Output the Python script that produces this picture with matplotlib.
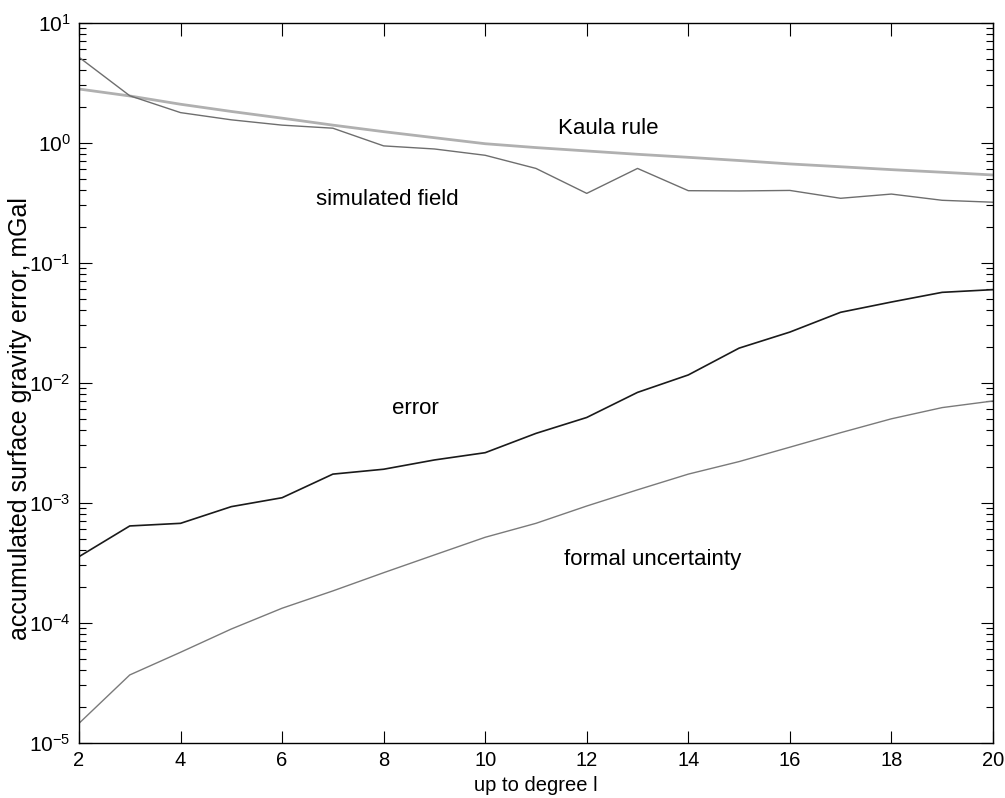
import matplotlib
matplotlib.use("Agg")
import matplotlib.pyplot as plt
from matplotlib.ticker import LogLocator, NullFormatter

plt.rcParams['font.family'] = ['Liberation Sans', 'DejaVu Sans']
plt.rcParams['mathtext.fontset'] = 'custom'
plt.rcParams['mathtext.rm'] = 'Liberation Sans'
plt.rcParams['mathtext.it'] = 'Liberation Sans:italic'

# spherical harmonic degree
degree = list(range(2, 21))

kaula_rule = [2.80, 2.45, 2.09, 1.82, 1.60, 1.40, 1.235, 1.10, 0.98, 0.91,
              0.853, 0.80, 0.755, 0.71, 0.665, 0.63, 0.596, 0.567, 0.538]
simulated_field = [5.15, 2.46, 1.78, 1.55, 1.40, 1.32, 0.94, 0.886, 0.785, 0.61,
                   0.378, 0.61, 0.398, 0.396, 0.40, 0.344, 0.373, 0.331, 0.319]
error = [3.55e-4, 6.4e-4, 6.73e-4, 9.27e-4, 1.10e-3, 1.73e-3, 1.90e-3, 2.27e-3,
         2.61e-3, 3.78e-3, 5.13e-3, 8.3e-3, 1.16e-2, 1.94e-2, 2.64e-2, 3.86e-2,
         4.70e-2, 5.66e-2, 5.96e-2]
formal_uncertainty = [1.45e-5, 3.67e-5, 5.67e-5, 8.86e-5, 1.32e-4, 1.84e-4, 2.61e-4,
                      3.67e-4, 5.15e-4, 6.73e-4, 9.38e-4, 1.28e-3, 1.73e-3, 2.20e-3,
                      2.90e-3, 3.83e-3, 5.0e-3, 6.2e-3, 7.04e-3]

fig = plt.figure(figsize=(10.05, 7.98), dpi=100)
ax = fig.add_axes([0.0786, 0.0693, 0.9094, 0.9023])

ax.plot(degree, kaula_rule, color='#b0b0b0', lw=2.0)
ax.plot(degree, simulated_field, color='#6e6e6e', lw=1.0)
ax.plot(degree, error, color='#1a1a1a', lw=1.2)
ax.plot(degree, formal_uncertainty, color='#7a7a7a', lw=1.0)

ax.set_yscale('log')
ax.set_xlim(2, 20)
ax.set_ylim(1e-5, 1e1)
ax.set_xticks(range(2, 21, 2))
ax.yaxis.set_major_locator(LogLocator(base=10, numticks=10))
ax.yaxis.set_minor_locator(LogLocator(base=10, subs=range(2, 10), numticks=100))
ax.yaxis.set_minor_formatter(NullFormatter())

ax.tick_params(which='both', direction='in', top=True, right=True, width=0.8)
ax.tick_params(which='major', length=9, pad=6)
ax.tick_params(which='minor', length=5)
ax.tick_params(axis='x', labelsize=14.5)
ax.tick_params(axis='y', labelsize=15)
for s in ax.spines.values():
    s.set_linewidth(1.0)

ax.set_xlabel('up to degree l', fontsize=14.5, labelpad=4.5)
ax.set_ylabel('accumulated surface gravity error, mGal', fontsize=18)
ax.yaxis.set_label_coords(-0.0514, 0.45)

ax.text(11.43, 1.30, 'Kaula rule', fontsize=16, va='center', ha='left')
ax.text(6.67, 0.333, 'simulated field', fontsize=16, va='center', ha='left')
ax.text(8.16, 6.04e-3, 'error', fontsize=16, va='center', ha='left')
ax.text(11.55, 3.33e-4, 'formal uncertainty', fontsize=16, va='center', ha='left')

fig.savefig('out.png', dpi=100)
